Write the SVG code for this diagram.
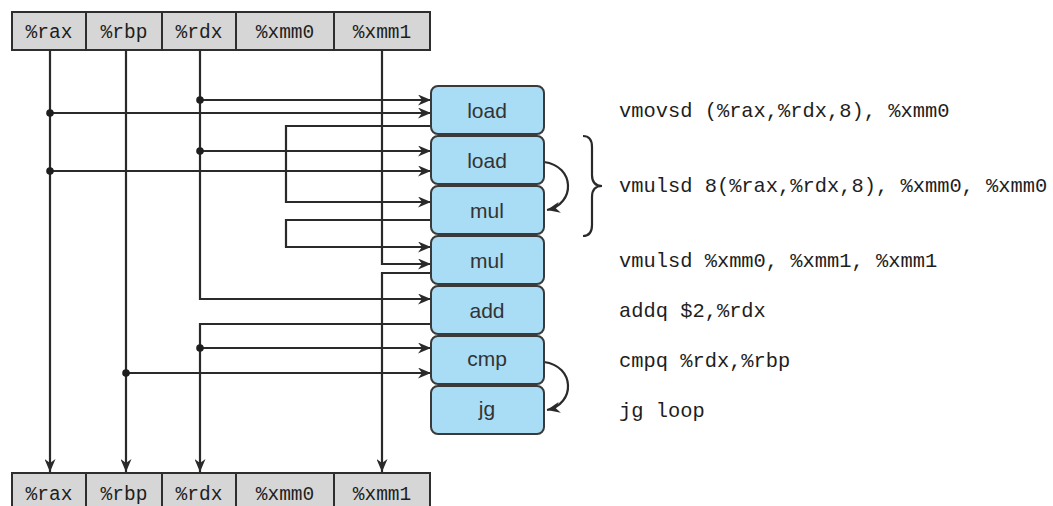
<svg xmlns="http://www.w3.org/2000/svg" width="1053" height="506" viewBox="0 0 1053 506">
<defs>
<style>
.bar{fill:#d6d6d6;stroke:#2e2e2e;stroke-width:2}
.div{stroke:#2e2e2e;stroke-width:2}
.reg{font-family:"Liberation Mono","DejaVu Sans Mono",monospace;font-size:19.5px;fill:#1e1e1e;text-anchor:middle}
.code{font-family:"Liberation Mono","DejaVu Sans Mono",monospace;font-size:20.4px;fill:#1e1e1e}
.box{fill:#a9dcf5;stroke:#3a3a3a;stroke-width:2}
.lbl{font-family:"Liberation Sans",Arial,sans-serif;font-size:21px;fill:#333;text-anchor:middle}
.ln{fill:none;stroke:#2a2a2a;stroke-width:2.2}
.dot{fill:#1e1e1e}
</style>
<marker id="ah" viewBox="0 0 13 11" refX="13" refY="5.5" markerWidth="13" markerHeight="11" markerUnits="userSpaceOnUse" orient="auto">
<path d="M0,0 L13,5.5 L0,11 L4,5.5 z" fill="#2a2a2a"/>
</marker>
</defs>
<rect width="1053" height="506" fill="#fff"/>

<g id="top-registers">
<rect class="bar" x="12" y="12" width="418" height="38"/>
<line class="div" x1="86" y1="12" x2="86" y2="50"/>
<line class="div" x1="162" y1="12" x2="162" y2="50"/>
<line class="div" x1="236" y1="12" x2="236" y2="50"/>
<line class="div" x1="334" y1="12" x2="334" y2="50"/>
<text class="reg" x="49" y="38">%rax</text>
<text class="reg" x="124" y="38">%rbp</text>
<text class="reg" x="199" y="38">%rdx</text>
<text class="reg" x="285" y="38">%xmm0</text>
<text class="reg" x="382" y="38">%xmm1</text>
</g>

<g id="bottom-registers">
<rect class="bar" x="12" y="473" width="418" height="40"/>
<line class="div" x1="86" y1="473" x2="86" y2="506"/>
<line class="div" x1="162" y1="473" x2="162" y2="506"/>
<line class="div" x1="236" y1="473" x2="236" y2="506"/>
<line class="div" x1="334" y1="473" x2="334" y2="506"/>
<text class="reg" x="49" y="500">%rax</text>
<text class="reg" x="124" y="500">%rbp</text>
<text class="reg" x="199" y="500">%rdx</text>
<text class="reg" x="285" y="500">%xmm0</text>
<text class="reg" x="382" y="500">%xmm1</text>
</g>

<g id="connectors">
<path class="ln" d="M50,50 V472" marker-end="url(#ah)"/>
<path class="ln" d="M126,50 V472" marker-end="url(#ah)"/>
<path class="ln" d="M200,50 V299 H431" marker-end="url(#ah)"/>
<path class="ln" d="M431,324 H200 V472" marker-end="url(#ah)"/>
<path class="ln" d="M382,50 V264 H431" marker-end="url(#ah)"/>
<path class="ln" d="M431,273 H382 V472" marker-end="url(#ah)"/>
<path class="ln" d="M431,126 H286 V202 H431" marker-end="url(#ah)"/>
<path class="ln" d="M431,220 H286 V247 H431" marker-end="url(#ah)"/>
<path class="ln" d="M200,100 H431" marker-end="url(#ah)"/>
<path class="ln" d="M50,113 H431" marker-end="url(#ah)"/>
<path class="ln" d="M200,151 H431" marker-end="url(#ah)"/>
<path class="ln" d="M50,171 H431" marker-end="url(#ah)"/>
<path class="ln" d="M200,348 H431" marker-end="url(#ah)"/>
<path class="ln" d="M126,373 H431" marker-end="url(#ah)"/>
<path class="ln" d="M544,162 C575,166 576,204 547,210" marker-end="url(#ah)"/>
<path class="ln" d="M544,362 C575,366 576,404 547,410" marker-end="url(#ah)"/>
<circle class="dot" cx="200" cy="100" r="3.8"/>
<circle class="dot" cx="50" cy="113" r="3.8"/>
<circle class="dot" cx="200" cy="151" r="3.8"/>
<circle class="dot" cx="50" cy="171" r="3.8"/>
<circle class="dot" cx="200" cy="348" r="3.8"/>
<circle class="dot" cx="126" cy="373" r="3.8"/>
</g>

<g id="n-load1"><rect class="box" x="431" y="86" width="113" height="48" rx="7"/><text class="lbl" x="487" y="118">load</text></g>
<g id="n-load2"><rect class="box" x="431" y="136" width="113" height="48" rx="7"/><text class="lbl" x="487" y="168">load</text></g>
<g id="n-mul1"><rect class="box" x="431" y="186" width="113" height="48" rx="7"/><text class="lbl" x="487" y="218">mul</text></g>
<g id="n-mul2"><rect class="box" x="431" y="236" width="113" height="48" rx="7"/><text class="lbl" x="487" y="268">mul</text></g>
<g id="n-add"><rect class="box" x="431" y="286" width="113" height="48" rx="7"/><text class="lbl" x="487" y="318">add</text></g>
<g id="n-cmp"><rect class="box" x="431" y="336" width="113" height="48" rx="7"/><text class="lbl" x="487" y="366">cmp</text></g>
<g id="n-jg"><rect class="box" x="431" y="386" width="113" height="48" rx="7"/><text class="lbl" x="487" y="416">jg</text></g>

<g id="brace">
<path class="ln" d="M583,136 Q592,136 592,147 L592,175 Q592,186 602,186 Q592,186 592,197 L592,225 Q592,236 583,236"/>
</g>

<g id="code">
<text class="code" x="619" y="117">vmovsd (%rax,%rdx,8), %xmm0</text>
<text class="code" x="619" y="192">vmulsd 8(%rax,%rdx,8), %xmm0, %xmm0</text>
<text class="code" x="619" y="267">vmulsd %xmm0, %xmm1, %xmm1</text>
<text class="code" x="619" y="317">addq $2,%rdx</text>
<text class="code" x="619" y="367">cmpq %rdx,%rbp</text>
<text class="code" x="619" y="417">jg loop</text>
</g>
</svg>
